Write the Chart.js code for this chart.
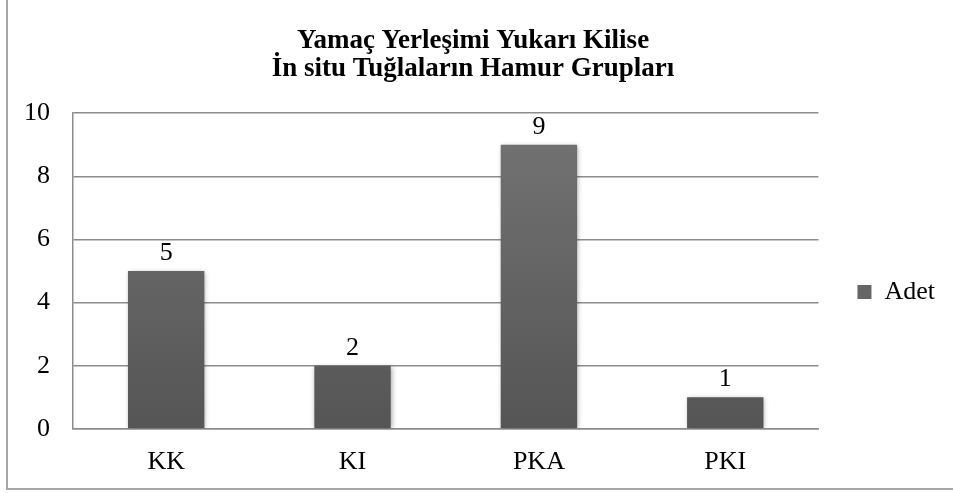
<!DOCTYPE html>
<html>
<head>
<meta charset="utf-8">
<script src="https://cdn.jsdelivr.net/npm/chart.js@4"></script>
<style>
  body { margin: 0; background: #fff; }
  #wrap { position: relative; width: 953px; height: 493px; }
  #frame { position: absolute; left: 6px; top: -3px; width: 960px; height: 491px;
           border-left: 2px solid #a6a6a6; border-bottom: 2px solid #a6a6a6; }
  canvas { position: absolute; left: 0; top: 0; }
</style>
</head>
<body>
<div id="wrap">
  <div id="frame"></div>
  <canvas id="myChart" width="953" height="493"></canvas>
</div>
<script>
const categories = ['KK', 'KI', 'PKA', 'PKI'];
const adet = [5, 2, 9, 1];
const yTicks = [0, 2, 4, 6, 8, 10];

const serif = "'Liberation Serif', 'Times New Roman', serif";

// values written above each bar
const valueLabels = {
    id: 'valueLabels',
    afterDatasetsDraw(chart) {
        const ctx = chart.ctx;
        const meta = chart.getDatasetMeta(0);
        ctx.save();
        ctx.font = "26px " + serif;
        ctx.fillStyle = '#000';
        ctx.textAlign = 'center';
        ctx.textBaseline = 'bottom';
        meta.data.forEach((bar, i) => {
            ctx.fillText(chart.data.datasets[0].data[i], bar.x, bar.y - 5);
        });
        ctx.restore();
    }
};

// soft shadow around the bars
const barShadow = {
    id: 'barShadow',
    beforeDatasetsDraw(chart) {
        const ctx = chart.ctx;
        ctx.save();
        ctx.shadowColor = 'rgba(0,0,0,0.35)';
        ctx.shadowBlur = 5;
        ctx.shadowOffsetX = 1;
        ctx.shadowOffsetY = 1;
    },
    afterDatasetsDraw(chart) {
        chart.ctx.restore();
    }
};

const barFill = (context) => {
    const area = context.chart.chartArea;
    if (!area) return '#606060';
    const g = context.chart.ctx.createLinearGradient(0, area.top, 0, area.bottom);
    g.addColorStop(0, '#747474');
    g.addColorStop(1, '#555555');
    return g;
};

const data = {
    labels: categories,
    datasets: [{
        label: 'Adet',
        data: adet,
        backgroundColor: barFill,
        borderWidth: 0,
        categoryPercentage: 1,
        barPercentage: 0.41
    }]
};

const config = {
    type: 'bar',
    data,
    plugins: [barShadow, valueLabels],
    options: {
        responsive: false,
        animation: false,
        layout: { padding: { left: 1, right: 8, top: 8, bottom: -3 } },
        plugins: {
            title: {
                display: true,
                text: ['Yamaç Yerleşimi Yukarı Kilise', 'İn situ Tuğlaların Hamur Grupları'],
                color: '#000',
                font: { family: serif, size: 27, weight: 'bold', lineHeight: 1.04 },
                padding: { top: 19, bottom: 30 }
            },
            legend: {
                position: 'right',
                // empty title only pushes the entry down a little
                title: { display: true, text: ' ', color: '#000', font: { size: 10 }, padding: { top: 34, bottom: 34 } },
                labels: {
                    color: '#000',
                    font: { family: serif, size: 26 },
                    boxWidth: 14,
                    boxHeight: 14,
                    padding: 39,
                    generateLabels: (chart) => [{
                        text: 'Adet',
                        fillStyle: '#666666',
                        strokeStyle: '#666666',
                        fontColor: '#000',
                        hidden: false,
                        lineWidth: 0,
                        datasetIndex: 0
                    }]
                }
            },
            tooltip: { enabled: false }
        },
        scales: {
            x: {
                grid: { display: false, drawTicks: false },
                border: { color: '#8c8c8c', width: 1.5 },
                ticks: { color: '#000', font: { family: serif, size: 26 }, padding: 18 }
            },
            y: {
                min: 0,
                max: 10,
                afterBuildTicks: (axis) => { axis.ticks = yTicks.map(v => ({ value: v })); },
                grid: { color: '#8c8c8c', lineWidth: 1.5, drawTicks: false },
                border: { color: '#8c8c8c', width: 1.5 },
                ticks: { color: '#000', font: { family: serif, size: 26 }, padding: 23 }
            }
        }
    }
};

const myChart = new Chart(document.getElementById('myChart'), config);
</script>
</body>
</html>
